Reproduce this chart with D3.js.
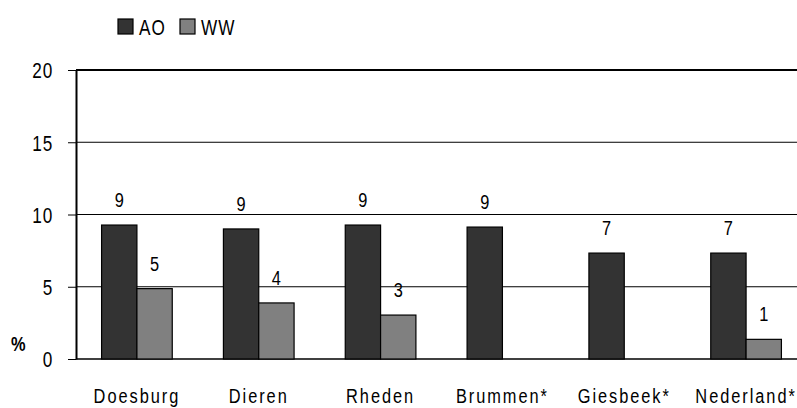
<!DOCTYPE html>
<html>
<head>
<meta charset="utf-8">
<script src="https://cdn.jsdelivr.net/npm/d3@7"></script>
<style>
  body { margin: 0; background: #fff; }
  text { font-family: "Liberation Sans", Arial, sans-serif; fill: #000; }
</style>
</head>
<body>
<div id="chart"></div>
<script>
const categories = ["Doesburg", "Dieren", "Rheden", "Brummen*", "Giesbeek*", "Nederland*"];
const seriesNames = ["AO", "WW"];
const aoValues = [9.27, 9.0, 9.27, 9.13, 7.33, 7.33];
const wwValues = [4.87, 3.88, 3.04, null, null, 1.36];
const yTicks = [0, 5, 10, 15, 20];
const colors = {AO: "#333333", WW: "#808080"};

const W = 797, H = 408;
const sx = 0.78; // horizontal squeeze to mimic a condensed face
const svg = d3.select("#chart").append("svg")
  .attr("width", W).attr("height", H);

// condensed text helper
function ctext(sel, px, py) {
  return sel.attr("x", 0).attr("y", 0)
    .attr("transform", `translate(${px},${py}) scale(${sx},1)`);
}

const x = d3.scaleBand()
  .domain(categories)
  .range([76, 807])
  .paddingInner(0.42)
  .paddingOuter(0.21);

const xs = d3.scaleBand()
  .domain(seriesNames)
  .range([0, x.bandwidth()]);

const y = d3.scaleLinear()
  .domain([0, 20])
  .range([359, 70]);

// gridlines
svg.append("g")
  .selectAll("line")
  .data(yTicks)
  .join("line")
    .attr("x1", 76).attr("x2", W)
    .attr("y1", d => y(d)).attr("y2", d => y(d))
    .attr("stroke", "#000")
    .attr("stroke-width", d => d === 20 ? 2 : (d === 0 ? 1.5 : 1));

// y axis
const yAxis = svg.append("g")
  .attr("transform", "translate(76,0)")
  .call(d3.axisLeft(y).tickValues(yTicks).tickSize(8).tickSizeOuter(0));
yAxis.select(".domain").attr("stroke-width", 2);
yAxis.selectAll(".tick line").attr("stroke-width", 1);
yAxis.selectAll(".tick text")
  .attr("font-family", null)
  .attr("font-size", null)
  .style("font-size", "22px")
  .style("letter-spacing", "1px")
  .attr("x", -23 / sx)
  .attr("dy", "0.36em")
  .attr("transform", `scale(${sx},1)`);

// % label
ctext(svg.append("text"), 11, 351)
  .style("font-size", "21px")
  .style("font-weight", "bold")
  .text("%");

const rows = categories.map((c, i) => ({cat: c, AO: aoValues[i], WW: wwValues[i]}));

const groups = svg.append("g")
  .selectAll("g")
  .data(rows)
  .join("g")
    .attr("transform", d => `translate(${x(d.cat)},0)`);

const bars = groups.selectAll("g.bar")
  .data(d => seriesNames.filter(s => d[s] != null).map(s => ({s: s, v: d[s]})))
  .join("g").attr("class", "bar");

bars.append("rect")
  .attr("x", d => xs(d.s))
  .attr("width", xs.bandwidth())
  .attr("y", d => y(d.v))
  .attr("height", d => y(0) - y(d.v))
  .attr("fill", d => colors[d.s])
  .attr("stroke", "#000")
  .attr("stroke-width", 1.2);

bars.append("text")
  .each(function(d) {
    ctext(d3.select(this), xs(d.s) + xs.bandwidth() / 2, y(d.v) - 18);
  })
  .attr("text-anchor", "middle")
  .style("font-size", "21px")
  .text(d => d3.format(".0f")(d.v));

// category labels
svg.append("g")
  .selectAll("text")
  .data(categories)
  .join("text")
    .each(function(d) {
      ctext(d3.select(this), x(d) + x.bandwidth() / 2, 403);
    })
    .attr("text-anchor", "middle")
    .style("font-size", "21px")
    .style("letter-spacing", "2.5px")
    .text(d => d);

// legend
const legend = svg.append("g");
const legX = [118, 180];
seriesNames.forEach((s, i) => {
  legend.append("rect")
    .attr("x", legX[i]).attr("y", 19)
    .attr("width", 15).attr("height", 15)
    .attr("fill", colors[s])
    .attr("stroke", "#000").attr("stroke-width", 1.2);
  ctext(legend.append("text"), legX[i] + 21, 35)
    .style("font-size", "22px")
    .style("letter-spacing", "1.5px")
    .text(s);
});
</script>
</body>
</html>
